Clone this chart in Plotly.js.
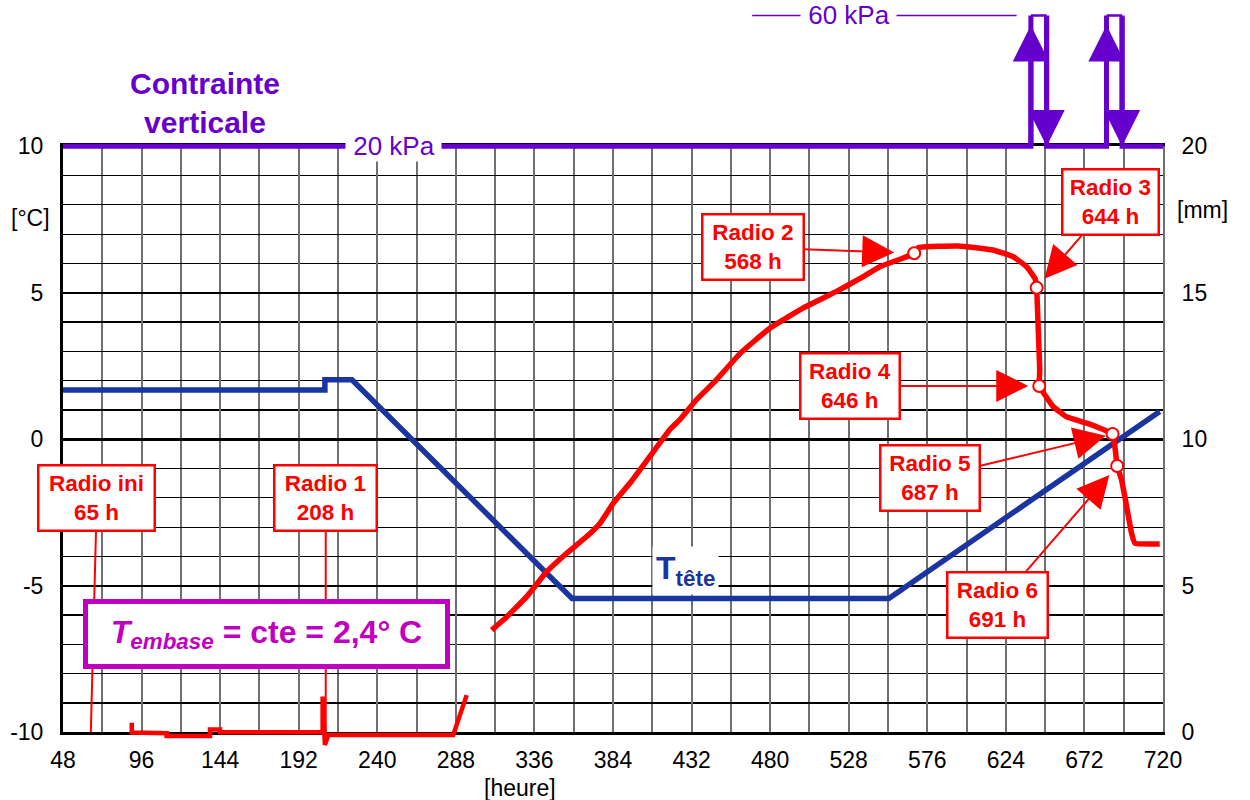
<!DOCTYPE html>
<html><head><meta charset="utf-8">
<script src="https://cdn.plot.ly/plotly-3.0.1.min.js"></script>
<style>html,body{margin:0;padding:0;background:#fff}#chart{width:1250px;height:800px}</style>
</head><body><div id="chart"></div>
<script>
// ---- T tête (°C), left axis
const teteHours = [48, 208, 208, 224.5, 359, 552.5, 718];
const teteTemp  = [1.68, 1.68, 2.03, 2.03, -5.43, -5.43, 0.95];

// ---- settlement curve (mm), right axis : early part
const earlyHours = [90, 90, 111.3, 111.3, 137.8, 137.8, 143.9, 143.9, 206.6, 206.6, 208.0, 210.1, 286.4, 294.6];
const earlyMm    = [0.33, -0.01, -0.03, -0.13, -0.13, 0.10, 0.10, 0.0, 0.0, 1.22, -0.43, -0.09, -0.09, 1.27];

// ---- settlement curve (mm) : main part
const mainHours = [309.9, 317.0, 331.3, 343.5, 355.7, 367.9, 376.0, 384.2, 395, 407, 419, 425, 435, 447, 462, 480, 500, 520, 535, 547, 561, 568,
                   570.5, 595, 616, 628.5, 636.7, 641.8, 642.8, 643.8, 644.7, 644.4, 647.9, 653, 661, 673.4, 681.5, 689.2, 690.6, 692.0,
                   694.7, 697.8, 700.8, 702.9, 718];
const mainMm    = [3.49, 3.83, 4.63, 5.48, 6.11, 6.68, 7.13, 7.82, 8.55, 9.45, 10.35, 10.68, 11.35, 12.02, 12.95, 13.80, 14.48, 15.03, 15.49, 15.89, 16.18, 16.35,
                   16.54, 16.60, 16.46, 16.23, 15.89, 15.49, 15.17, 13.73, 12.37, 11.82, 11.51, 11.11, 10.77, 10.55, 10.38, 10.18, 9.75, 9.09,
                   8.61, 7.70, 6.79, 6.45, 6.43];

// ---- radiographies
const radioHours = [568, 642.8, 644.4, 689.2, 692];
const radioMm    = [16.35, 15.17, 11.82, 10.18, 9.09];
const radioNames = ['Radio ini', 'Radio 1', 'Radio 2', 'Radio 3', 'Radio 4', 'Radio 5', 'Radio 6'];
const radioTimes = ['65 h', '208 h', '568 h', '644 h', '646 h', '687 h', '691 h'];
const radioIniHours = [65, 208.5];

// ---- vertical stress (kPa)
const loadUpHours   = [639.3, 685.5];
const loadDownHours = [648.9, 695.0];
const stressBase = 20, stressPeak = 60;
const line60Hours = [469, 630.6];

// ---- axes ticks
const xTicks = [48, 96, 144, 192, 240, 288, 336, 384, 432, 480, 528, 576, 624, 672, 720];
const yTicks = [-10, -5, 0, 5, 10];
const y2Ticks = [0, 5, 10, 15, 20];

const FONT = 'Liberation Sans, Arial, Helvetica, sans-serif';
const RED = '#ff0000', BLUE = '#1a35a0', PURPLE = '#6600cc', MAGENTA = '#c000c0';

// stress path (base + stems) and top bars
const sx = [48, loadUpHours[0], loadUpHours[0], null, loadDownHours[0], loadDownHours[0], loadUpHours[1], loadUpHours[1], null, loadDownHours[1], loadDownHours[1], 720];
const sy = [stressBase, stressBase, stressPeak, null, stressPeak, stressBase, stressBase, stressPeak, null, stressPeak, stressBase, stressBase];
const bx = [loadUpHours[0], loadDownHours[0], null, loadUpHours[1], loadDownHours[1]];
const by = [stressPeak, stressPeak, null, stressPeak, stressPeak];

const traces = [
  {x: teteHours, y: teteTemp, xaxis: 'x', yaxis: 'y', mode: 'lines', line: {color: BLUE, width: 5.5}, hoverinfo: 'skip'},
  {x: mainHours, y: mainMm, xaxis: 'x', yaxis: 'y2', mode: 'lines', line: {color: RED, width: 5.5, shape: 'spline', smoothing: 0.3}, hoverinfo: 'skip'},
  {x: radioHours, y: radioMm, xaxis: 'x', yaxis: 'y2', mode: 'markers', marker: {symbol: 'circle', size: 12, color: '#ffffff', line: {color: RED, width: 2}}, hoverinfo: 'skip'},
  {x: sx, y: sy, xaxis: 'x2', yaxis: 'y3', mode: 'lines', line: {color: PURPLE, width: 5}, connectgaps: false, hoverinfo: 'skip'},
  {x: bx, y: by, xaxis: 'x2', yaxis: 'y3', mode: 'lines', line: {color: PURPLE, width: 2.5}, connectgaps: false, hoverinfo: 'skip'},
  {x: line60Hours, y: [stressPeak, stressPeak], xaxis: 'x2', yaxis: 'y3', mode: 'lines', line: {color: PURPLE, width: 1.5}, hoverinfo: 'skip'},
  // early settlement segment drawn on a full-height copy of the mm scale so it can sit over the bottom axis line
  {x: earlyHours, y: earlyMm, xaxis: 'x2', yaxis: 'y4', mode: 'lines', line: {color: RED, width: 4.5}, hoverinfo: 'skip'}
];

// pixel offsets (box centre relative to the pointed point) and box sizes
const boxOffsets = [[6, -234], [0, -234], [-161, -6], [74, -86], [-189, 0], [-183, 44], [-120, 139]];
const boxWidths  = [106, 92, 91, 86, 89, 89, 90];
const standoffs  = [0, 0, 20, 12, 11, 7, 12];

const annotations = [];
for (let i = 0; i < radioNames.length; i++) {
  const isIni = i < 2;
  annotations.push({
    xref: 'x', yref: 'y2',
    x: isIni ? radioIniHours[i] : radioHours[i - 2],
    y: isIni ? 0 : radioMm[i - 2],
    ax: boxOffsets[i][0], ay: boxOffsets[i][1],
    text: '<b>' + radioNames[i] + '<br>' + radioTimes[i] + '</b>',
    font: {family: FONT, size: 22.5, color: RED},
    bgcolor: '#ffffff', bordercolor: RED, borderwidth: 2.5, borderpad: 4,
    width: boxWidths[i], height: 55,
    showarrow: true, arrowcolor: RED, arrowwidth: 2,
    arrowhead: isIni ? 0 : 2, arrowsize: isIni ? 1 : 3.2, standoff: standoffs[i]
  });
}
// stress arrows
for (let i = 0; i < 2; i++) {
  annotations.push({xref: 'x2', yref: 'y3', axref: 'x2', ayref: 'y3', x: loadUpHours[i], y: 57, ax: loadUpHours[i], ay: stressBase,
    text: '', showarrow: true, arrowcolor: PURPLE, arrowwidth: 5, arrowhead: 2, arrowsize: 1.45, standoff: 0});
  annotations.push({xref: 'x2', yref: 'y3', axref: 'x2', ayref: 'y3', x: loadDownHours[i], y: stressBase, ax: loadDownHours[i], ay: stressPeak,
    text: '', showarrow: true, arrowcolor: PURPLE, arrowwidth: 5, arrowhead: 2, arrowsize: 1.45, standoff: 0});
}
// stress texts
annotations.push({xref: 'x2', yref: 'y3', x: 249.6, y: stressBase, text: '&nbsp;20 kPa&nbsp;', showarrow: false,
  font: {family: FONT, size: 26, color: PURPLE}, bgcolor: '#ffffff', borderpad: 0, xanchor: 'center', yanchor: 'middle'});
annotations.push({xref: 'x2', yref: 'y3', x: 528, y: stressPeak, text: '&nbsp;60 kPa&nbsp;', showarrow: false,
  font: {family: FONT, size: 26, color: PURPLE}, bgcolor: '#ffffff', borderpad: 0, xanchor: 'center', yanchor: 'middle'});
annotations.push({xref: 'paper', yref: 'paper', x: 0.129, y: 0.876, text: '<b>Contrainte<br>verticale</b>', showarrow: false,
  font: {family: FONT, size: 30, color: PURPLE}, xanchor: 'center', yanchor: 'middle'});
// T tête label
annotations.push({xref: 'paper', yref: 'paper', x: 0.5655, y: 0.2533, text: '<b>T<sub>tête</sub></b>', showarrow: false,
  font: {family: FONT, size: 32, color: BLUE}, bgcolor: '#ffffff', borderpad: 3, xanchor: 'center', yanchor: 'middle'});
// T embase box
annotations.push({xref: 'paper', yref: 'paper', x: 0.185, y: 0.168, text: '<b><i>T<sub>embase</sub></i> = cte = 2,4° C</b>', showarrow: false,
  font: {family: FONT, size: 32, color: MAGENTA}, bgcolor: '#ffffff', bordercolor: MAGENTA, borderwidth: 5,
  width: 355, height: 58, xanchor: 'center', yanchor: 'middle'});
// unit labels
annotations.push({xref: 'paper', yref: 'paper', x: -0.03, y: 0.7227, text: '[°C]', showarrow: false,
  font: {family: FONT, size: 23, color: '#000'}, xanchor: 'center', yanchor: 'middle'});
annotations.push({xref: 'paper', yref: 'paper', x: 1.0355, y: 0.7333, text: '[mm]', showarrow: false,
  font: {family: FONT, size: 23, color: '#000'}, xanchor: 'center', yanchor: 'middle'});
annotations.push({xref: 'paper', yref: 'paper', x: 0.4155, y: -0.037, text: '[heure]', showarrow: false,
  font: {family: FONT, size: 23, color: '#000'}, xanchor: 'center', yanchor: 'middle'});

const GRIDX = '#707070';
const layout = {
  width: 1250, height: 800,
  margin: {l: 63, r: 87, t: 10, b: 40},
  paper_bgcolor: '#ffffff', plot_bgcolor: 'rgba(0,0,0,0)',
  showlegend: false,
  font: {family: FONT, size: 23, color: '#000'},
  xaxis: {domain: [0, 1], anchor: 'y', range: [48, 720], tickmode: 'array', tickvals: xTicks, ticktext: xTicks.map(String),
    showgrid: true, gridcolor: GRIDX, gridwidth: 2,
    minor: {tickmode: 'linear', tick0: 48, dtick: 24, showgrid: true, gridcolor: GRIDX, gridwidth: 2},
    showline: true, linecolor: '#000', linewidth: 3, mirror: true, ticks: '', zeroline: false,
    tickfont: {family: FONT, size: 23}, ticklabelstandoff: 5},
  yaxis: {domain: [0.03693, 0.81827], anchor: 'x', range: [-10, 10], tickmode: 'array', tickvals: yTicks, ticktext: yTicks.map(String),
    showgrid: true, gridcolor: '#000', gridwidth: 2.5,
    minor: {tickmode: 'linear', tick0: -10, dtick: 1, showgrid: true, gridcolor: '#000', gridwidth: 1.2},
    showline: true, linecolor: '#000', linewidth: 3, ticks: '', zeroline: false,
    tickfont: {family: FONT, size: 23}, ticklabelstandoff: 12},
  yaxis2: {overlaying: 'y', side: 'right', anchor: 'x', range: [0, 20], tickmode: 'array', tickvals: y2Ticks, ticktext: y2Ticks.map(String),
    showgrid: false, zeroline: false, showline: true, linecolor: GRIDX, linewidth: 2, ticks: '',
    tickfont: {family: FONT, size: 23}, ticklabelstandoff: 12},
  xaxis2: {domain: [0, 1], anchor: 'y3', range: [48, 720], visible: false, showgrid: false, zeroline: false},
  yaxis3: {domain: [0, 1], anchor: 'x2', range: [-167.68, 61.68], visible: false, showgrid: false, zeroline: false},
  yaxis4: {overlaying: 'y3', anchor: 'x2', range: [-0.945, 24.652], visible: false, showgrid: false, zeroline: false},
  annotations: annotations
};

Plotly.newPlot('chart', traces, layout, {staticPlot: true, displayModeBar: false});
</script>
</body></html>
